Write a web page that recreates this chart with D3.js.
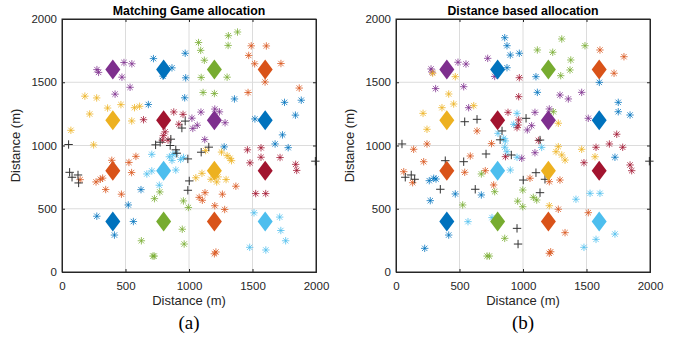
<!DOCTYPE html>
<html>
<head>
<meta charset="utf-8">
<script src="https://cdn.jsdelivr.net/npm/d3@7"></script>
<style>
  html, body { margin: 0; padding: 0; background: #fff; }
  svg { display: block; }
  text { font-family: "Liberation Sans", Arial, sans-serif; }
</style>
</head>
<body>
<svg id="chart" width="684" height="343"></svg>
<script>
// Base stations on a 4x4 grid (m), listed row by row from the top
const bsX = [400, 800, 1200, 1600, 400, 800, 1200, 1600, 400, 800, 1200, 1600, 400, 800, 1200, 1600];
const bsY = [1600, 1600, 1600, 1600, 1200, 1200, 1200, 1200, 800, 800, 800, 800, 400, 400, 400, 400];
const bsColour = ["purple", "blue", "green", "orange", "yellow", "darkred", "purple", "blue",
                  "orange", "lightblue", "yellow", "darkred", "blue", "green", "orange", "lightblue"];

const palette = {
  blue: "#0072BD", orange: "#D95319", yellow: "#EDB120", purple: "#7E2F8E",
  green: "#77AC30", lightblue: "#4DBEEE", darkred: "#A2142F"
};

// Users: [x (m), y (m), serving base station index]; -1 = not served
const usersMatching = [
  [275,1600,0],[288,1578,0],[488,1656,0],[550,1646,0],[472,1540,0],[536,1460,0],[418,1406,0],
  [720,1687,1],[970,1729,1],[866,1614,1],[795,1548,1],[974,1535,1],[966,1377,1],[680,1324,1],
  [1075,1814,2],[1092,1752,2],[1310,1868,2],[1382,1897,2],[1121,1674,2],[1308,1791,2],[1300,1540,2],[1096,1538,2],[1111,1419,2],[1200,1411,2],
  [1490,1788,3],[1609,1787,3],[1470,1712,3],[1517,1646,3],[1724,1648,3],[1599,1502,3],[1465,1419,3],[1868,1454,3],
  [70,1120,4],[180,1390,4],[273,1376,4],[218,1249,4],[359,1296,4],[464,1323,4],[571,1299,4],[611,1310,4],[549,1194,4],[249,1005,4],
  [642,1204,5],[880,1265,5],[953,1246,5],[920,1168,5],[812,1108,5],[798,1078,5],[790,1042,5],[835,1042,5],
  [1094,1264,6],[1203,1288,6],[1240,1266,6],[1023,1216,6],[1030,1135,6],[1065,1160,6],[1124,1047,6],[1284,1180,6],
  [1358,1368,7],[1752,1341,7],[1884,1358,7],[1838,1240,7],[1519,1210,7],[1736,1084,7],[1678,1012,7],[1781,983,7],[1277,989,7],
  [392,883,8],[527,866,8],[582,914,8],[548,786,8],[268,712,8],[302,733,8],[320,742,8],[143,730,8],[344,652,8],[468,615,8],
  [707,930,9],[845,911,9],[873,928,9],[897,938,9],[934,890,9],[866,882,9],[957,906,9],[668,775,9],[707,799,9],[896,806,9],[766,686,9],
  [1256,948,10],[1300,920,10],[1323,899,10],[1335,880,10],[1131,960,10],[1102,780,10],[1054,745,10],[1173,733,10],[1218,712,10],[1229,752,10],[1292,731,10],
  [1460,966,11],[1567,982,11],[1567,907,11],[1480,863,11],[1717,905,11],[1840,851,11],[1848,803,11],[1525,620,11],[1604,620,11],
  [274,441,12],[562,399,12],[413,292,12],[522,530,12],[622,651,12],
  [770,633,13],[728,580,13],[956,562,13],[995,510,13],[947,338,13],[962,221,13],[625,247,13],[716,126,13],[726,126,13],
  [1126,627,14],[1080,590,14],[1105,567,14],[1263,615,14],[1369,678,14],[1203,524,14],[1281,494,14],[1200,144,14],[1212,158,14],
  [1512,468,15],[1714,434,15],[1723,328,15],[1761,247,15],[1478,195,15],[1605,174,15],
  [52,1008,-1],[970,1193,-1],[944,1138,-1],[737,1005,-1],[773,1026,-1],[857,1050,-1],[852,1000,-1],[896,966,-1],[904,939,-1],
  [991,894,-1],[1156,987,-1],[1096,947,-1],[1995,876,-1],[60,788,-1],[79,749,-1],[126,767,-1],[131,704,-1],[1002,720,-1],[991,646,-1]
];

const usersDistance = [
  [276,1605,0],[285,1580,0],[488,1658,0],[551,1644,0],[312,1450,0],[533,1465,0],[722,1689,0],[572,1299,0],[777,1546,0],
  [856,1852,1],[874,1789,1],[900,1715,1],[971,1729,1],[874,1615,1],[1102,1544,1],[1113,1420,1],
  [1305,1842,2],[1113,1755,2],[1234,1737,2],[1488,1789,2],[1376,1676,2],[1370,1597,2],[1297,1552,2],[1239,1267,2],
  [1606,1755,3],[1795,1702,3],[1717,1571,3],
  [289,1571,4],[467,1544,4],[415,1407,4],[362,1299,4],[454,1328,4],[612,1315,4],[213,1254,4],[244,1128,4],
  [971,1536,5],[966,1386,5],[882,1262,5],[966,1202,5],[961,1162,5],[953,1141,5],[1121,1040,5],[862,912,5],
  [1291,1399,6],[1357,1368,6],[1462,1420,6],[1094,1262,6],[1207,1289,6],[1068,1157,6],[1034,1123,6],[1514,1215,6],[1094,943,6],[990,899,6],
  [1601,1499,7],[1750,1341,7],[1750,1267,7],[1843,1241,7],[1724,907,7],
  [638,1115,8],[244,1012,8],[139,970,8],[218,872,8],[61,793,8],[131,706,8],[585,917,8],[541,788,8],[703,801,8],[769,688,8],[752,1015,8],
  [953,1254,9],[927,1167,9],[803,1096,9],[848,1057,9],[861,1036,9],[856,986,9],[874,951,9],[953,907,9],[900,806,9],[567,398,9],[1147,985,9],[756,430,9],
  [1278,991,10],[1260,951,10],[1305,925,10],[1331,885,10],[1462,970,10],[1567,911,10],[1207,524,10],[1278,1176,10],
  [1575,986,11],[1680,1012,11],[1785,986,11],[1480,864,11],[1843,846,11],[1856,801,11],[1738,1089,11],
  [262,722,12],[297,741,12],[315,735,12],[270,564,12],[467,617,12],[672,609,12],[415,292,12],[226,187,12],
  [672,775,13],[777,635,13],[525,530,13],[856,266,13],[717,126,13],[735,126,13],[998,648,13],[998,516,13],[958,560,13],[1081,590,13],[1108,569,13],
  [1055,741,14],[1207,714,14],[1291,727,14],[1514,469,14],[1331,311,14],[1207,148,14],[1218,160,14],[1278,496,14],
  [1528,622,15],[1606,622,15],[1417,575,15],[1575,258,15],[1724,300,15],[1480,195,15],
  [47,1012,-1],[73,749,-1],[120,767,-1],[147,733,-1],[388,880,-1],[533,872,-1],[349,654,-1],[624,654,-1],[709,933,-1],
  [908,925,-1],[953,345,-1],[961,221,-1],[541,1188,-1],[638,1207,-1],[1024,1215,-1],[835,1115,-1],[1102,785,-1],
  [1173,733,-1],[1134,627,-1],[1002,727,-1],[1995,876,-1],[820,1045,-1],[1134,1043,-1]
];

const tickValues = [0, 500, 1000, 1500, 2000];
const panels = [
  { title: "Matching Game allocation", caption: "(a)", users: usersMatching, left: 62 },
  { title: "Distance based allocation", caption: "(b)", users: usersDistance, left: 396 }
];

const svg = d3.select("#chart");
const plotW = 254, plotH = 253, plotTop = 19;
const axisColour = "#262626";

panels.forEach(p => {
  const x = d3.scaleLinear().domain([0, 2000]).range([p.left, p.left + plotW]);
  const y = d3.scaleLinear().domain([0, 2000]).range([plotTop + plotH, plotTop]);
  const g = svg.append("g");

  // grid
  g.append("g").selectAll("line").data(tickValues.slice(1, -1)).join("line")
    .attr("x1", d => x(d)).attr("x2", d => x(d)).attr("y1", plotTop).attr("y2", plotTop + plotH)
    .attr("stroke", "#dcdcdc").attr("stroke-width", 1);
  g.append("g").selectAll("line").data(tickValues.slice(1, -1)).join("line")
    .attr("y1", d => y(d)).attr("y2", d => y(d)).attr("x1", p.left).attr("x2", p.left + plotW)
    .attr("stroke", "#dcdcdc").attr("stroke-width", 1);

  // axes with inward ticks
  const xAxis = d3.axisBottom(x).tickValues(tickValues).tickSize(-3).tickPadding(9.5).tickFormat(d3.format("d"));
  const yAxis = d3.axisLeft(y).tickValues(tickValues).tickSize(-3).tickPadding(5).tickFormat(d3.format("d"));
  const xa = g.append("g").attr("transform", `translate(0,${plotTop + plotH})`).call(xAxis);
  const ya = g.append("g").attr("transform", `translate(${p.left},0)`).call(yAxis);
  const xt = g.append("g").attr("transform", `translate(0,${plotTop})`).call(d3.axisTop(x).tickValues(tickValues).tickSize(-3).tickFormat(""));
  const yr = g.append("g").attr("transform", `translate(${p.left + plotW},0)`).call(d3.axisRight(y).tickValues(tickValues).tickSize(-3).tickFormat(""));
  [xa, ya, xt, yr].forEach(a => {
    a.select(".domain").attr("stroke", axisColour);
    a.selectAll(".tick line").attr("stroke", axisColour);
    a.selectAll("text").attr("fill", axisColour).style("font-size", "11.5px")
      .style("font-family", "'Liberation Sans', Arial, sans-serif");
  });

  // users: asterisks for served, plus signs for unserved
  const served = p.users.filter(u => u[2] >= 0);
  const unserved = p.users.filter(u => u[2] < 0);
  const a = 3.7, b = 2.7;
  const star = `M${-a},0H${a}M0,${-a}V${a}M${-b},${-b}L${b},${b}M${-b},${b}L${b},${-b}`;
  g.append("g").selectAll("path").data(served).join("path")
    .attr("transform", d => `translate(${x(d[0])},${y(d[1])})`)
    .attr("d", star)
    .attr("fill", "none")
    .attr("stroke", d => palette[bsColour[d[2]]])
    .attr("stroke-width", 0.9)
    .attr("opacity", 0.85);
  const c = 4.2;
  g.append("g").selectAll("path").data(unserved).join("path")
    .attr("transform", d => `translate(${x(d[0])},${y(d[1])})`)
    .attr("d", `M${-c},0H${c}M0,${-c}V${c}`)
    .attr("fill", "none")
    .attr("stroke", "#333")
    .attr("stroke-width", 1);

  // base stations
  const hw = 7.5, hh = 10;
  g.append("g").selectAll("path").data(bsX.map((v, i) => i)).join("path")
    .attr("transform", i => `translate(${x(bsX[i])},${y(bsY[i])})`)
    .attr("d", `M0,${-hh}L${hw},0L0,${hh}L${-hw},0Z`)
    .attr("fill", i => palette[bsColour[i]]);

  // frame
  g.append("rect").attr("x", p.left).attr("y", plotTop).attr("width", plotW).attr("height", plotH)
    .attr("fill", "none").attr("stroke", axisColour).attr("stroke-width", 1);

  const cx = p.left + plotW / 2;
  g.append("text").attr("x", cx).attr("y", 15).attr("text-anchor", "middle")
    .style("font-size", "12.3px").style("font-weight", "bold").attr("fill", "#000").text(p.title);
  g.append("text").attr("x", cx).attr("y", 304.5).attr("text-anchor", "middle")
    .style("font-size", "13px").attr("fill", axisColour).text("Distance (m)");
  g.append("text").attr("transform", `translate(${p.left - 38},${plotTop + plotH / 2}) rotate(-90)`)
    .attr("text-anchor", "middle").attr("dy", "-4").style("font-size", "13px").attr("fill", axisColour).text("Distance (m)");
  g.append("text").attr("x", cx).attr("y", 329).attr("text-anchor", "middle")
    .style("font-size", "19px").style("font-family", "'Liberation Serif', 'Times New Roman', serif")
    .attr("fill", "#000").text(p.caption);
});
</script>
</body>
</html>
